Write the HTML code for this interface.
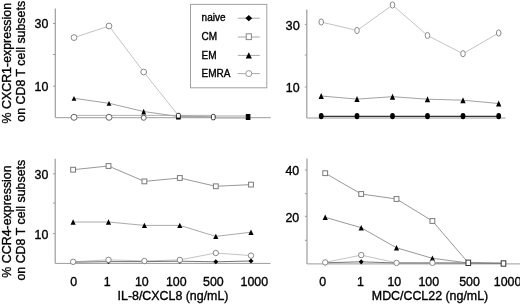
<!DOCTYPE html>
<html lang="en">
<head>
<meta charset="utf-8">
<title>Chemokine receptor expression on CD8 T cell subsets</title>
<style>
html,body{margin:0;padding:0;background:#fff;}
body{width:520px;height:304px;overflow:hidden;}
svg{display:block;filter:blur(0.4px);}
svg text{font-family:"Liberation Sans",Arial,Helvetica,sans-serif;fill:#000;stroke:#000;stroke-width:0.35px;}
</style>
</head>
<body>
<svg width="520" height="304" viewBox="0 0 520 304">
<rect x="0" y="0" width="520" height="304" fill="#ffffff"/>
<text transform="translate(11,63.2) rotate(-90)" text-anchor="middle" font-size="12.4">% CXCR1-expression</text>
<text transform="translate(25.4,61.3) rotate(-90)" text-anchor="middle" font-size="12.4">on CD8 T cell subsets</text>
<text transform="translate(11,221.5) rotate(-90)" text-anchor="middle" font-size="12.4">% CCR4-expression</text>
<text transform="translate(25.4,220.2) rotate(-90)" text-anchor="middle" font-size="12.4">on CD8 T cell subsets</text>
<line x1="55.3" y1="8.5" x2="55.3" y2="117.5" stroke="#9c9c9c" stroke-width="1.2"/>
<line x1="55.3" y1="117.7" x2="270.8" y2="117.7" stroke="#9c9c9c" stroke-width="1"/>
<line x1="53.0" y1="23.5" x2="55.3" y2="23.5" stroke="#9c9c9c" stroke-width="1"/>
<line x1="53.0" y1="54.5" x2="55.3" y2="54.5" stroke="#9c9c9c" stroke-width="1"/>
<line x1="53.0" y1="86.2" x2="55.3" y2="86.2" stroke="#9c9c9c" stroke-width="1"/>
<text x="48.3" y="28.0" text-anchor="end" font-size="12.4" >30</text>
<text x="48.3" y="90.6" text-anchor="end" font-size="12.4" >10</text>
<polyline points="74.00,37.60 109.00,26.00 143.70,72.00 178.40,115.50 213.30,117.00 248.10,117.00" fill="none" stroke="#bcbcbc" stroke-width="0.9"/>
<polyline points="74.00,98.30 109.00,103.30 143.70,111.50 178.40,116.50 213.30,117.00 248.10,117.00" fill="none" stroke="#8a8a8a" stroke-width="0.8"/>
<polyline points="74.00,115.40 213.30,115.40" fill="none" stroke="#a0a0a0" stroke-width="0.8"/>
<rect x="213.3" y="115.0" width="34.8" height="4.0" fill="#d2d2d2"/>
<line x1="213.3" y1="117.7" x2="248.1" y2="117.7" stroke="#b0b0b0" stroke-width="1"/>
<polygon points="74.00,95.90 76.40,100.70 71.60,100.70" fill="#000"/>
<polygon points="109.00,100.90 111.40,105.70 106.60,105.70" fill="#000"/>
<polygon points="143.70,108.70 146.10,114.50 141.30,114.50" fill="#000"/>
<ellipse cx="74" cy="37.6" rx="2.9" ry="2.9" fill="#fff" stroke="#8a8a8a" stroke-width="1"/>
<ellipse cx="109" cy="26" rx="2.9" ry="2.9" fill="#fff" stroke="#8a8a8a" stroke-width="1"/>
<ellipse cx="143.7" cy="72" rx="2.9" ry="2.9" fill="#fff" stroke="#8a8a8a" stroke-width="1"/>
<ellipse cx="74" cy="117.3" rx="3.0" ry="3.0" fill="#fff" stroke="#666" stroke-width="1"/>
<ellipse cx="109" cy="117.3" rx="3.0" ry="3.0" fill="#fff" stroke="#666" stroke-width="1"/>
<ellipse cx="143.7" cy="117.8" rx="2.5" ry="2.5" fill="#fff" stroke="#666" stroke-width="1"/>
<rect x="176.40" y="113.30" width="4.0" height="5.4" rx="1.4" fill="#fff" stroke="#333" stroke-width="1"/>
<rect x="176.1" y="117.6" width="4.6" height="1.9" fill="#000"/>
<rect x="211.40" y="114.40" width="3.8" height="5.4" rx="1.4" fill="#fff" stroke="#333" stroke-width="1"/>
<rect x="246.30" y="114.50" width="3.6" height="5.0" rx="0" fill="#000" stroke="#000" stroke-width="1"/>
<rect x="190.5" y="4.4" width="76.3" height="83.4" fill="#fff" stroke="#a0a0a0" stroke-width="1"/>
<text x="201.6" y="21.1" text-anchor="start" font-size="10" >naive</text>
<line x1="237.8" y1="18.2" x2="259.8" y2="18.2" stroke="#a8a8a8" stroke-width="1"/>
<polygon points="248.80,15.10 252.20,18.20 248.80,21.30 245.40,18.20" fill="#000"/>
<text x="201.6" y="39.7" text-anchor="start" font-size="10" >CM</text>
<line x1="237.8" y1="37.0" x2="259.8" y2="37.0" stroke="#a8a8a8" stroke-width="1"/>
<rect x="246.20" y="33.80" width="5.2" height="5.8" rx="0" fill="#fff" stroke="#888" stroke-width="1"/>
<text x="201.6" y="58.7" text-anchor="start" font-size="10" >EM</text>
<line x1="237.8" y1="55.4" x2="259.8" y2="55.4" stroke="#a8a8a8" stroke-width="1"/>
<polygon points="248.80,52.30 251.90,58.50 245.70,58.50" fill="#000"/>
<text x="201.6" y="77.3" text-anchor="start" font-size="10" >EMRA</text>
<line x1="237.8" y1="73.6" x2="259.8" y2="73.6" stroke="#a8a8a8" stroke-width="1"/>
<ellipse cx="248.8" cy="73.6" rx="3.0" ry="3.0" fill="#fff" stroke="#999" stroke-width="1"/>
<line x1="306.8" y1="9.5" x2="306.8" y2="118" stroke="#9c9c9c" stroke-width="1.2"/>
<line x1="306.8" y1="118" x2="505.5" y2="118" stroke="#9c9c9c" stroke-width="1"/>
<line x1="304.8" y1="24.4" x2="306.8" y2="24.4" stroke="#9c9c9c" stroke-width="1"/>
<line x1="304.8" y1="55" x2="306.8" y2="55" stroke="#9c9c9c" stroke-width="1"/>
<line x1="304.8" y1="87" x2="306.8" y2="87" stroke="#9c9c9c" stroke-width="1"/>
<text x="299.8" y="29.6" text-anchor="end" font-size="12.8" >30</text>
<text x="299.6" y="92.4" text-anchor="end" font-size="12.4" >10</text>
<polyline points="321.20,22.00 357.00,30.50 392.50,5.00 427.50,35.50 463.00,53.70 498.70,33.00" fill="none" stroke="#bcbcbc" stroke-width="0.9"/>
<polyline points="321.20,96.00 357.00,99.10 392.50,96.70 427.50,99.20 463.00,100.20 498.70,103.50" fill="none" stroke="#8a8a8a" stroke-width="0.8"/>
<polyline points="321.20,116.30 498.70,116.30" fill="none" stroke="#333" stroke-width="1.3"/>
<polygon points="321.20,93.00 323.85,99.00 318.55,99.00" fill="#000"/>
<polygon points="357.00,96.10 359.65,102.10 354.35,102.10" fill="#000"/>
<polygon points="392.50,93.70 395.15,99.70 389.85,99.70" fill="#000"/>
<polygon points="427.50,96.20 430.15,102.20 424.85,102.20" fill="#000"/>
<polygon points="463.00,97.20 465.65,103.20 460.35,103.20" fill="#000"/>
<polygon points="498.70,100.50 501.35,106.50 496.05,106.50" fill="#000"/>
<ellipse cx="321.2" cy="22.0" rx="2.3" ry="3.1" fill="#fff" stroke="#8a8a8a" stroke-width="1"/>
<ellipse cx="357" cy="30.5" rx="2.3" ry="3.1" fill="#fff" stroke="#8a8a8a" stroke-width="1"/>
<ellipse cx="392.5" cy="5" rx="2.3" ry="3.1" fill="#fff" stroke="#8a8a8a" stroke-width="1"/>
<ellipse cx="427.5" cy="35.5" rx="2.3" ry="3.1" fill="#fff" stroke="#8a8a8a" stroke-width="1"/>
<ellipse cx="463" cy="53.7" rx="2.3" ry="3.1" fill="#fff" stroke="#8a8a8a" stroke-width="1"/>
<ellipse cx="498.7" cy="33" rx="2.3" ry="3.1" fill="#fff" stroke="#8a8a8a" stroke-width="1"/>
<ellipse cx="321.2" cy="116.1" rx="2.4" ry="3.2" fill="#000" stroke="#000" stroke-width="0"/>
<ellipse cx="357" cy="116.1" rx="2.4" ry="3.2" fill="#000" stroke="#000" stroke-width="0"/>
<ellipse cx="392.5" cy="116.1" rx="2.4" ry="3.2" fill="#000" stroke="#000" stroke-width="0"/>
<ellipse cx="427.5" cy="116.1" rx="2.4" ry="3.2" fill="#000" stroke="#000" stroke-width="0"/>
<ellipse cx="463" cy="116.1" rx="2.4" ry="3.2" fill="#000" stroke="#000" stroke-width="0"/>
<ellipse cx="498.7" cy="116.1" rx="2.4" ry="3.2" fill="#000" stroke="#000" stroke-width="0"/>
<line x1="55.2" y1="158.8" x2="55.2" y2="263.4" stroke="#9c9c9c" stroke-width="1.2"/>
<line x1="55.2" y1="263.4" x2="270.5" y2="263.4" stroke="#9c9c9c" stroke-width="1"/>
<line x1="53.0" y1="173.8" x2="55.2" y2="173.8" stroke="#9c9c9c" stroke-width="1"/>
<line x1="53.0" y1="203" x2="55.2" y2="203" stroke="#9c9c9c" stroke-width="1"/>
<line x1="53.0" y1="233.6" x2="55.2" y2="233.6" stroke="#9c9c9c" stroke-width="1"/>
<text x="48.3" y="178.5" text-anchor="end" font-size="12.4" >30</text>
<text x="48.3" y="239.4" text-anchor="end" font-size="12.4" >10</text>
<polyline points="73.10,169.70 108.50,166.00 144.40,181.40 179.80,178.00 215.80,186.30 251.00,184.60" fill="none" stroke="#8c8c8c" stroke-width="0.9"/>
<polyline points="73.10,222.00 108.50,222.00 144.40,225.40 179.80,225.40 215.80,236.40 251.00,232.20" fill="none" stroke="#a0a0a0" stroke-width="0.9"/>
<polyline points="73.10,261.80 108.50,259.80 144.40,261.00 179.80,259.90 215.80,253.00 251.00,255.60" fill="none" stroke="#bcbcbc" stroke-width="0.9"/>
<polyline points="73.10,262.20 108.50,261.60 144.40,261.60 179.80,261.20 215.80,261.80 251.00,261.00" fill="none" stroke="#666" stroke-width="0.9"/>
<polygon points="73.10,219.30 75.70,224.70 70.50,224.70" fill="#000"/>
<polygon points="108.50,219.30 111.10,224.70 105.90,224.70" fill="#000"/>
<polygon points="144.40,222.70 147.00,228.10 141.80,228.10" fill="#000"/>
<polygon points="179.80,222.70 182.40,228.10 177.20,228.10" fill="#000"/>
<polygon points="215.80,233.70 218.40,239.10 213.20,239.10" fill="#000"/>
<polygon points="251.00,229.50 253.60,234.90 248.40,234.90" fill="#000"/>
<polygon points="73.10,259.70 75.60,262.20 73.10,264.70 70.60,262.20" fill="#000"/>
<polygon points="108.50,259.10 111.00,261.60 108.50,264.10 106.00,261.60" fill="#000"/>
<polygon points="144.40,259.10 146.90,261.60 144.40,264.10 141.90,261.60" fill="#000"/>
<polygon points="179.80,258.70 182.30,261.20 179.80,263.70 177.30,261.20" fill="#000"/>
<polygon points="215.80,259.30 218.30,261.80 215.80,264.30 213.30,261.80" fill="#000"/>
<polygon points="251.00,258.50 253.50,261.00 251.00,263.50 248.50,261.00" fill="#000"/>
<rect x="70.70" y="167.30" width="4.8" height="4.8" rx="0" fill="#fff" stroke="#7a7a7a" stroke-width="1"/>
<rect x="106.10" y="163.60" width="4.8" height="4.8" rx="0" fill="#fff" stroke="#7a7a7a" stroke-width="1"/>
<rect x="142.00" y="179.00" width="4.8" height="4.8" rx="0" fill="#fff" stroke="#7a7a7a" stroke-width="1"/>
<rect x="177.40" y="175.60" width="4.8" height="4.8" rx="0" fill="#fff" stroke="#7a7a7a" stroke-width="1"/>
<rect x="213.40" y="183.90" width="4.8" height="4.8" rx="0" fill="#fff" stroke="#7a7a7a" stroke-width="1"/>
<rect x="248.60" y="182.20" width="4.8" height="4.8" rx="0" fill="#fff" stroke="#7a7a7a" stroke-width="1"/>
<ellipse cx="73.1" cy="261.8" rx="2.7" ry="2.7" fill="#fff" stroke="#888" stroke-width="1"/>
<ellipse cx="108.5" cy="259.8" rx="2.7" ry="2.7" fill="#fff" stroke="#888" stroke-width="1"/>
<ellipse cx="144.4" cy="261" rx="2.7" ry="2.7" fill="#fff" stroke="#888" stroke-width="1"/>
<ellipse cx="179.8" cy="259.9" rx="2.7" ry="2.7" fill="#fff" stroke="#888" stroke-width="1"/>
<ellipse cx="215.8" cy="253" rx="2.7" ry="2.7" fill="#fff" stroke="#888" stroke-width="1"/>
<ellipse cx="251" cy="255.6" rx="2.7" ry="2.7" fill="#fff" stroke="#888" stroke-width="1"/>
<text x="73.75" y="286.2" text-anchor="middle" font-size="12.4" >0</text>
<text x="107.3" y="286.2" text-anchor="middle" font-size="12.4" >1</text>
<text x="141.8" y="286.2" text-anchor="middle" font-size="12.4" >10</text>
<text x="176.3" y="286.2" text-anchor="middle" font-size="12.4" >100</text>
<text x="213.4" y="286.2" text-anchor="middle" font-size="12.4" >500</text>
<text x="254.3" y="286.2" text-anchor="middle" font-size="12.4" >1000</text>
<text x="173" y="300.2" text-anchor="middle" font-size="12.4" >IL-8/CXCL8 (ng/mL)</text>
<line x1="307.0" y1="158.4" x2="307.0" y2="263.9" stroke="#9c9c9c" stroke-width="1.2"/>
<line x1="307.0" y1="263.9" x2="520" y2="263.9" stroke="#9c9c9c" stroke-width="1"/>
<line x1="304.9" y1="170" x2="307.0" y2="170" stroke="#9c9c9c" stroke-width="1"/>
<line x1="304.9" y1="193.7" x2="307.0" y2="193.7" stroke="#9c9c9c" stroke-width="1"/>
<line x1="304.9" y1="216.3" x2="307.0" y2="216.3" stroke="#9c9c9c" stroke-width="1"/>
<line x1="304.9" y1="240.3" x2="307.0" y2="240.3" stroke="#9c9c9c" stroke-width="1"/>
<text x="299.2" y="175.2" text-anchor="end" font-size="12.4" >40</text>
<text x="299.2" y="221.6" text-anchor="end" font-size="12.4" >20</text>
<polyline points="325.20,173.20 361.20,194.00 396.50,199.00 432.40,221.00 468.30,262.80 503.50,263.50" fill="none" stroke="#8c8c8c" stroke-width="0.9"/>
<polyline points="325.20,217.30 361.20,227.70 396.50,247.80 432.40,258.30 468.30,263.00 503.50,263.30" fill="none" stroke="#8c8c8c" stroke-width="0.9"/>
<polyline points="325.20,262.40 361.20,255.10 396.50,262.90 432.40,262.90 468.30,263.00 503.50,263.30" fill="none" stroke="#bcbcbc" stroke-width="0.9"/>
<polyline points="325.20,262.80 361.20,261.80 396.50,263.00 432.40,263.00 468.30,263.00 503.50,263.30" fill="none" stroke="#666" stroke-width="0.9"/>
<polygon points="325.20,214.60 327.80,220.00 322.60,220.00" fill="#000"/>
<polygon points="361.20,225.00 363.80,230.40 358.60,230.40" fill="#000"/>
<polygon points="396.50,245.10 399.10,250.50 393.90,250.50" fill="#000"/>
<polygon points="432.40,255.60 435.00,261.00 429.80,261.00" fill="#000"/>
<polygon points="325.20,260.20 327.60,262.80 325.20,265.40 322.80,262.80" fill="#000"/>
<polygon points="361.20,259.20 363.60,261.80 361.20,264.40 358.80,261.80" fill="#000"/>
<ellipse cx="325.2" cy="262.4" rx="2.7" ry="2.7" fill="#fff" stroke="#888" stroke-width="1"/>
<ellipse cx="361.2" cy="255.1" rx="2.7" ry="2.7" fill="#fff" stroke="#888" stroke-width="1"/>
<ellipse cx="396.5" cy="262.9" rx="2.7" ry="2.7" fill="#fff" stroke="#888" stroke-width="1"/>
<ellipse cx="432.4" cy="262.9" rx="2.7" ry="2.7" fill="#fff" stroke="#888" stroke-width="1"/>
<rect x="322.80" y="170.80" width="4.8" height="4.8" rx="0" fill="#fff" stroke="#7a7a7a" stroke-width="1"/>
<rect x="358.80" y="191.60" width="4.8" height="4.8" rx="0" fill="#fff" stroke="#7a7a7a" stroke-width="1"/>
<rect x="394.10" y="196.60" width="4.8" height="4.8" rx="0" fill="#fff" stroke="#7a7a7a" stroke-width="1"/>
<rect x="430.00" y="218.60" width="4.8" height="4.8" rx="0" fill="#fff" stroke="#7a7a7a" stroke-width="1"/>
<rect x="466.00" y="260.10" width="4.6" height="5.4" rx="0" fill="#fff" stroke="#333" stroke-width="1"/>
<rect x="501.20" y="260.80" width="4.6" height="5.4" rx="0" fill="#fff" stroke="#333" stroke-width="1"/>
<text x="322.7" y="286.2" text-anchor="middle" font-size="12.4" >0</text>
<text x="360.5" y="286.2" text-anchor="middle" font-size="12.4" >1</text>
<text x="394.3" y="286.2" text-anchor="middle" font-size="12.4" >10</text>
<text x="428.8" y="286.2" text-anchor="middle" font-size="12.4" >100</text>
<text x="469.5" y="286.2" text-anchor="middle" font-size="12.4" >500</text>
<text x="507.6" y="286.2" text-anchor="middle" font-size="12.4" >1000</text>
<text x="430" y="300.2" text-anchor="middle" font-size="12.4" >MDC/CCL22 (ng/mL)</text>
</svg>
</body>
</html>
